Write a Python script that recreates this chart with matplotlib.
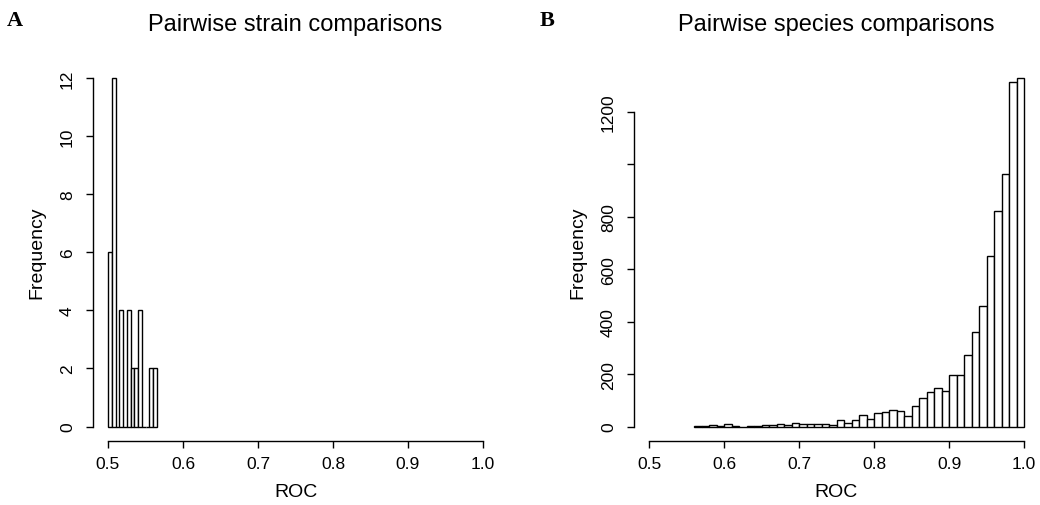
import matplotlib
matplotlib.use("Agg")
import matplotlib.pyplot as plt
import numpy as np

plt.rcParams["font.family"] = ["Liberation Sans", "DejaVu Sans"]

# panel A: pairwise strain ROC histogram (bin width 0.005)
strain_bin_start = 0.500
strain_bin_width = 0.005
strain_counts = [6, 12, 0, 4, 0, 4, 2, 2, 4, 0, 0, 2, 2]

# panel B: pairwise species ROC histogram (bin width 0.01)
species_bin_start = 0.56
species_bin_width = 0.01
species_counts = [4, 1, 6, 1, 10, 1, 0, 1, 4, 5,
                  6, 10, 6, 15, 10, 8, 9, 8, 6, 24,
                  14, 26, 43, 29, 50, 54, 65, 61, 42, 78,
                  110, 130, 146, 135, 197, 196, 273, 360, 458, 651,
                  823, 963, 1313, 1329]

x_ticks = [0.5, 0.6, 0.7, 0.8, 0.9, 1.0]
strain_yticks = [0, 2, 4, 6, 8, 10, 12]
species_yticks = [0, 200, 400, 600, 800, 1000, 1200]
species_ylabels = ["0", "200", "400", "600", "800", "", "1200"]

# axes box in pixels (R-style plot region)
FIG_W, FIG_H = 1040, 506
BOX_TOP, BOX_BOT, BOX_W = 65, 441.5, 405


def draw_hist(ax, start, width, counts, yticks, ylabels, title):
    counts = np.asarray(counts)
    lefts = start + width * np.arange(len(counts))
    ax.bar(lefts, counts, width=width, align="edge", color="white",
           edgecolor="black", linewidth=1.0)
    ymax = counts.max()
    ax.set_xlim(0.48, 1.02)
    ax.set_ylim(-0.04 * ymax, 1.04 * ymax)
    for s in ("top", "right"):
        ax.spines[s].set_visible(False)
    ax.spines["left"].set_bounds(yticks[0], yticks[-1])
    ax.spines["bottom"].set_bounds(x_ticks[0], x_ticks[-1])
    ax.spines["left"].set_linewidth(1.0)
    ax.spines["bottom"].set_linewidth(1.0)
    ax.set_xticks(x_ticks)
    ax.set_xticklabels([f"{t:.1f}" for t in x_ticks])
    ax.set_yticks(yticks)
    ax.set_yticklabels(ylabels, rotation=90, va="center")
    ax.tick_params(direction="out", length=5, width=1.0, labelsize=12.5)
    ax.tick_params(axis="x", pad=6)
    ax.tick_params(axis="y", pad=8)

    h = BOX_BOT - BOX_TOP
    ax.text(0.5, (BOX_BOT - 493) / h, "ROC", transform=ax.transAxes,
            ha="center", va="center", fontsize=14)
    ax.text(-56 / BOX_W, 0.5, "Frequency", transform=ax.transAxes,
            rotation=90, ha="center", va="center", fontsize=14)
    ax.text(0.5, (BOX_BOT - 25) / h, title, transform=ax.transAxes,
            ha="center", va="center", fontsize=17)


fig = plt.figure(figsize=(FIG_W / 100, FIG_H / 100), dpi=100)
bottom = (FIG_H - BOX_BOT) / FIG_H
height = (BOX_BOT - BOX_TOP) / FIG_H
ax_a = fig.add_axes([93 / FIG_W, bottom, BOX_W / FIG_W, height])
ax_b = fig.add_axes([634 / FIG_W, bottom, BOX_W / FIG_W, height])

draw_hist(ax_a, strain_bin_start, strain_bin_width, strain_counts,
          strain_yticks, [str(t) for t in strain_yticks],
          "Pairwise strain comparisons")
draw_hist(ax_b, species_bin_start, species_bin_width, species_counts,
          species_yticks, species_ylabels,
          "Pairwise species comparisons")

fig.text(15 / FIG_W, 1 - 21 / FIG_H, "A", family="Liberation Serif",
         fontweight="bold", fontsize=16, va="center", ha="center")
fig.text(547 / FIG_W, 1 - 21 / FIG_H, "B", family="Liberation Serif",
         fontweight="bold", fontsize=16, va="center", ha="center")

fig.savefig("out.png", dpi=100)
